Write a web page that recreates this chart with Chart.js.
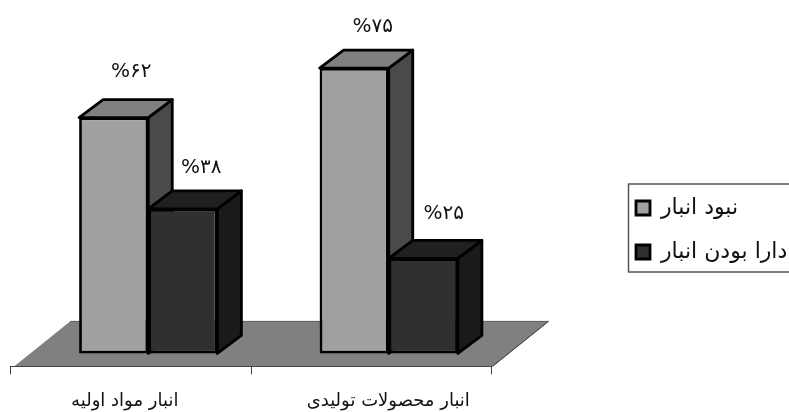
<!DOCTYPE html>
<html lang="fa"><head><meta charset="utf-8">
<style>html,body{margin:0;padding:0;background:#fff;overflow:hidden}#w{width:789px;height:412px;position:relative}</style>
<script src="https://cdn.jsdelivr.net/npm/chart.js@4/dist/chart.umd.min.js"></script>
</head><body><div id="w"><canvas id="c" width="789" height="412"></canvas></div>
<script>
const categories = ["انبار مواد اولیه", "انبار محصولات تولیدی"];
const seriesNames = ["نبود انبار", "دارا بودن انبار"];
const noWarehouse = [62, 75];
const hasWarehouse = [38, 25];
const valueLabels = [["%۶۲", "%۷۵"], ["%۳۸", "%۲۵"]];

const font = "'DejaVu Sans'";
const depth = {dx: 24, dy: 18};
const faces = [
  {front: "#a0a0a0", top: "#808080", side: "#4a4a4a"},
  {front: "#303030", top: "#202020", side: "#1a1a1a"}
];
const labelNudge = [-6, 17];
const labelDrop = 8;
const valueRise = [[46, 41], [41, 45]];
const valueShift = [[17.5, 18.5], [18.5, 20.5]];
const edge = 2.8;

function poly(ctx, pts, fill, stroke, lw) {
  ctx.beginPath();
  pts.forEach((p, i) => i ? ctx.lineTo(p[0], p[1]) : ctx.moveTo(p[0], p[1]));
  ctx.closePath();
  if (fill) { ctx.fillStyle = fill; ctx.fill(); }
  if (stroke) { ctx.strokeStyle = stroke; ctx.lineWidth = lw; ctx.lineJoin = "round"; ctx.stroke(); }
}

const scene = {
  id: "scene",
  afterLayout(chart) {
    const a = chart.chartArea, s = chart.scales.xv, shift = 17.5;
    s.left = a.left - shift; s.right = a.right - shift; s.width = a.right - a.left;
    s.configure();
    const l = chart.legend;
    const w = l.width, h = l.height;
    l.left = 614; l.right = 614 + w; l.top = 175; l.bottom = 175 + h;
  },
  beforeDraw(chart) {
    const ctx = chart.ctx, s = chart.scales.xv, y = chart.chartArea.bottom;
    ctx.save();
    const l = s.left + 3.5, r = s.right + 1;
    poly(ctx, [[l, y], [l + 56, y - 45], [r + 56, y - 45], [r, y]], "#808080");
    ctx.strokeStyle = "#5a5a5a"; ctx.lineWidth = 1;
    ctx.beginPath(); ctx.moveTo(l + 56, y - 45); ctx.lineTo(r + 56, y - 45); ctx.stroke();
    ctx.strokeStyle = "#333";
    ctx.beginPath(); ctx.moveTo(r + 56, y - 45); ctx.lineTo(r, y); ctx.stroke();
    ctx.restore();
    const items = s.getLabelItems();
    if (!items._moved) {
      items.forEach((it, i) => { it.options.translation[0] += labelNudge[i]; it.options.translation[1] += labelDrop; });
      items._moved = true;
    }
  },
  beforeDatasetsDraw(chart) {
    const ctx = chart.ctx;
    ctx.save();
    chart.data.datasets.forEach((ds, di) => {
      chart.getDatasetMeta(di).data.forEach(bar => {
        const p = bar.getProps(["x", "y", "base", "width"], true);
        const L = p.x - p.width / 2, R = p.x + p.width / 2, T = p.y, B = p.base;
        const f = faces[di], dx = depth.dx, dy = depth.dy;
        poly(ctx, [[R, T], [R + dx, T - dy], [R + dx, B - dy], [R, B]], f.side, "#000", edge);
        poly(ctx, [[L, T], [L + dx, T - dy], [R + dx, T - dy], [R, T]], f.top, "#000", edge);
      });
    });
    ctx.restore();
  },
  afterDatasetsDraw(chart) {
    const ctx = chart.ctx;
    ctx.save();
    ctx.fillStyle = "#111"; ctx.font = "20px " + font; ctx.textAlign = "center"; ctx.textBaseline = "middle";
    chart.data.datasets.forEach((ds, di) => {
      chart.getDatasetMeta(di).data.forEach((bar, i) => {
        ctx.fillText(valueLabels[di][i], bar.x + valueShift[di][i], bar.y - valueRise[di][i]);
      });
    });
    ctx.restore();
  },
  afterDraw(chart) {
    const ctx = chart.ctx, l = chart.legend;
    ctx.save();
    ctx.strokeStyle = "#555"; ctx.lineWidth = 1.5;
    ctx.strokeRect(l.left + 14.5, l.top + 9, 200, 88);
    ctx.restore();
  }
};

new Chart(document.getElementById("c"), {
  type: "bar",
  data: {
    labels: categories,
    datasets: [
      {label: seriesNames[0], data: noWarehouse, backgroundColor: faces[0].front, borderColor: "#000", borderWidth: edge, borderSkipped: false, xAxisID: "x", yAxisID: "y"},
      {label: seriesNames[1], data: hasWarehouse, backgroundColor: faces[1].front, borderColor: "#000", borderWidth: edge, borderSkipped: false, xAxisID: "x", yAxisID: "y"}
    ]
  },
  options: {
    responsive: false,
    animation: false,
    devicePixelRatio: 1,
    layout: {padding: {left: 28, right: 100, top: 11, bottom: 0}},
    categoryPercentage: 0.575,
    barPercentage: 1,
    scales: {
      x: {display: false, offset: true, grid: {display: false}},
      xv: {
        type: "category", position: "bottom", offset: true,
        grid: {offset: true, drawOnChartArea: false, drawTicks: true, tickLength: 8, color: "#444", lineWidth: 1},
        border: {display: true, color: "#444", width: 1},
        ticks: {color: "#111", font: {family: font, size: 18}, padding: 8, maxRotation: 0, autoSkip: false}
      },
      y: {display: false, min: -3.41, max: 90, grid: {display: false}}
    },
    plugins: {
      tooltip: {enabled: false},
      legend: {
        position: "right", align: "start", maxWidth: 180,
        textDirection: "rtl",
        labels: {boxWidth: 14, boxHeight: 14, padding: 22, color: "#111", font: {family: font, size: 22},
          generateLabels: c => c.data.datasets.map((d, i) => ({text: d.label, fillStyle: d.backgroundColor, strokeStyle: "#000", lineWidth: edge, datasetIndex: i, fontColor: "#111"}))}
      }
    }
  },
  plugins: [scene]
});
</script></body></html>
